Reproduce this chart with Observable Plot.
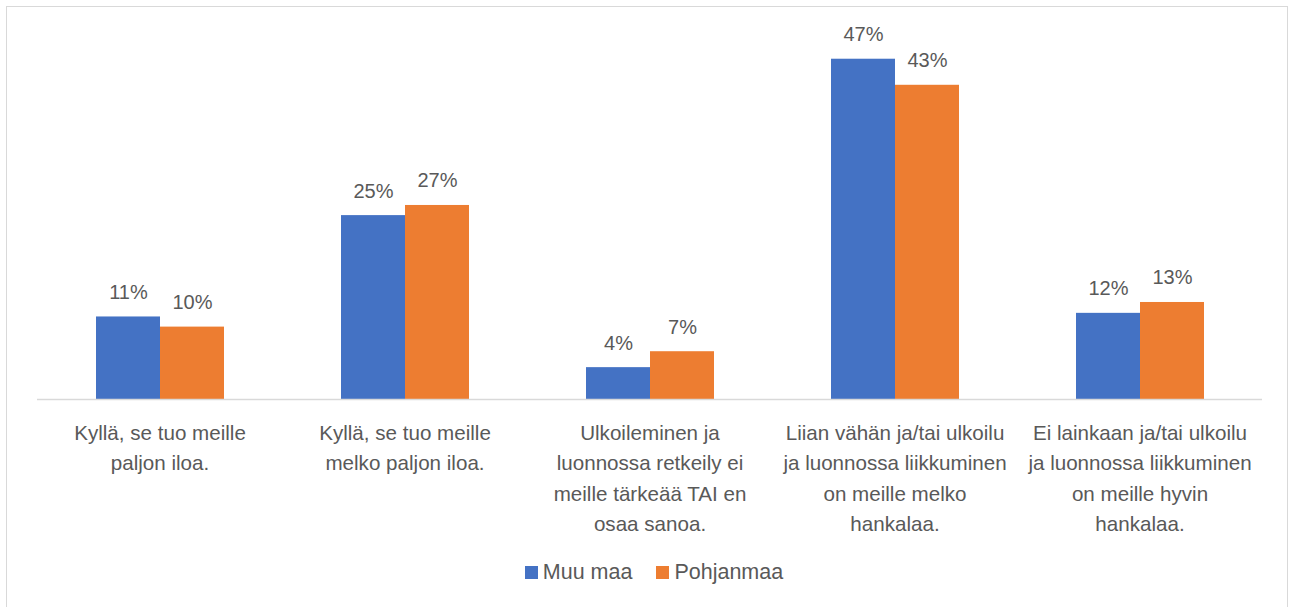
<!DOCTYPE html>
<html>
<head>
<meta charset="utf-8">
<script src="https://cdn.jsdelivr.net/npm/d3@7"></script>
<script src="https://cdn.jsdelivr.net/npm/@observablehq/plot@0.6"></script>
<style>
  html, body { margin: 0; padding: 0; background: #fff; }
  body { width: 1293px; height: 607px; position: relative; overflow: hidden; font-family: "Liberation Sans", Arial, sans-serif; }
  #frame { position: absolute; left: 6px; top: 6px; width: 1282px; height: 700px; border: 1px solid #d9d9d9; box-sizing: border-box; }
  #chart { position: absolute; left: 0; top: 0; }
  #legend { position: absolute; left: 0; width: 1293px; top: 560px; display: flex; justify-content: center; gap: 24px; font-size: 21.5px; color: #595959; padding-left: 15px; box-sizing: border-box; }
  .item { display: flex; align-items: center; gap: 5px; }
  .sw { width: 13px; height: 13px; display: inline-block; }
</style>
</head>
<body>
<div id="frame"></div>
<div id="chart"></div>
<div id="legend"></div>
<script>
const categories = [
  "Kyllä, se tuo meille paljon iloa.",
  "Kyllä, se tuo meille melko paljon iloa.",
  "Ulkoileminen ja luonnossa retkeily ei meille tärkeää TAI en osaa sanoa.",
  "Liian vähän ja/tai ulkoilu ja luonnossa liikkuminen on meille melko hankalaa.",
  "Ei lainkaan ja/tai ulkoilu ja luonnossa liikkuminen on meille hyvin hankalaa."
];
const categoryTickLabels = [
  "Kyllä, se tuo meille\npaljon iloa.",
  "Kyllä, se tuo meille\nmelko paljon iloa.",
  "Ulkoileminen ja\nluonnossa retkeily ei\nmeille tärkeää TAI en\nosaa sanoa.",
  "Liian vähän ja/tai ulkoilu\nja luonnossa liikkuminen\non meille melko\nhankalaa.",
  "Ei lainkaan ja/tai ulkoilu\nja luonnossa liikkuminen\non meille hyvin\nhankalaa."
];
const seriesNames = ["Muu maa", "Pohjanmaa"];
const seriesColors = ["#4472C4", "#ED7D31"];
const muuMaa = [11.4, 25.4, 4.4, 47.0, 11.9];
const pohjanmaa = [10.0, 26.8, 6.6, 43.4, 13.4];

const data = [];
categories.forEach((c, i) => {
  data.push({category: c, series: seriesNames[0], value: muuMaa[i]});
  data.push({category: c, series: seriesNames[1], value: pohjanmaa[i]});
});
const tickMap = new Map(categories.map((c, i) => [c, categoryTickLabels[i]]));

const W = 1293, H = 545;
const chart = Plot.plot({
  width: W,
  height: H,
  marginLeft: 35,
  marginRight: 30,
  marginTop: 37,
  marginBottom: H - 399,
  style: {fontFamily: "'Liberation Sans', Arial, sans-serif", fontSize: "20px", color: "#595959", background: "transparent"},
  fx: {domain: categories, padding: 0, label: null},
  x: {domain: seriesNames, paddingInner: 0, paddingOuter: 0.9, axis: null},
  y: {domain: [0, 50], axis: null},
  color: {domain: seriesNames, range: seriesColors},
  marks: [
    Plot.barY(data, {fx: "category", x: "series", y: "value", fill: "series", insetLeft: 0, insetRight: 0}),
    Plot.ruleY([0], {stroke: "#d9d9d9", strokeWidth: 1.5}),
    Plot.text(data, {fx: "category", x: "series", y: "value", text: d => Math.round(d.value) + "%", lineAnchor: "bottom", dy: -18, fontSize: 20, fill: "#595959"}),
    Plot.axisFx({anchor: "bottom", tickSize: 0, tickPadding: 19, tickFormat: d => tickMap.get(d), lineHeight: 1.47, fontSize: 20.6, fill: "#595959", label: null})
  ]
});
document.getElementById("chart").appendChild(chart);

const legend = document.getElementById("legend");
seriesNames.forEach((s, i) => {
  const it = document.createElement("div");
  it.className = "item";
  const sw = document.createElement("span");
  sw.className = "sw";
  sw.style.background = seriesColors[i];
  const t = document.createElement("span");
  t.textContent = s;
  it.appendChild(sw); it.appendChild(t);
  legend.appendChild(it);
});
</script>
</body>
</html>
